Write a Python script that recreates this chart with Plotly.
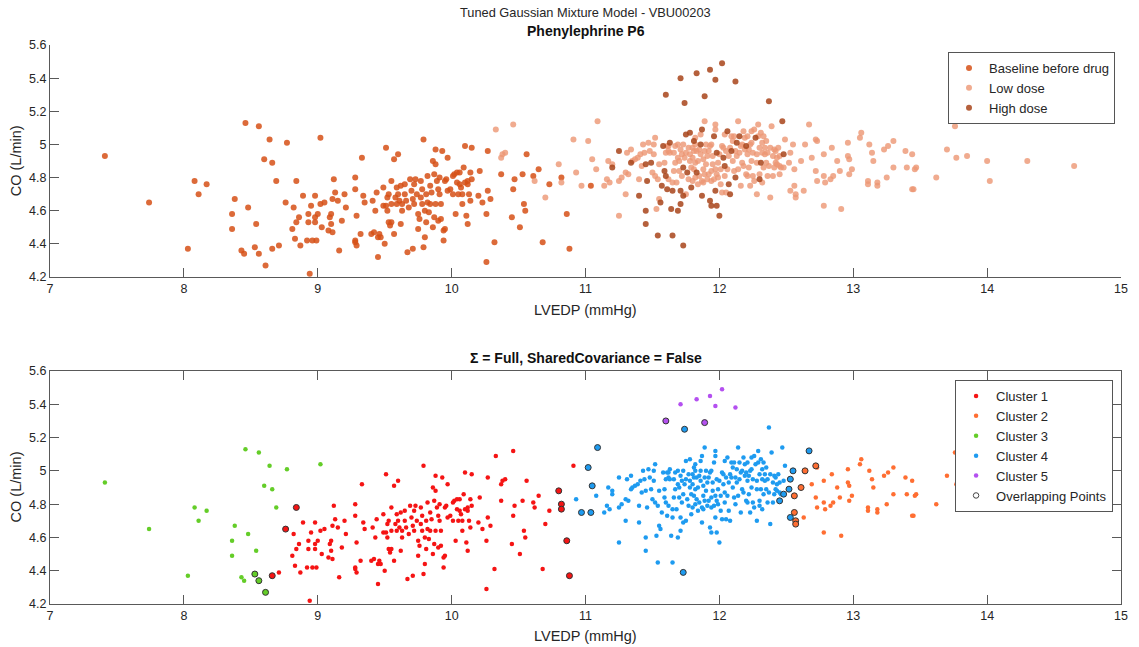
import plotly.graph_objects as go

# ---------------- data (LVEDP mmHg, CO L/min) ----------------
# cluster 3, baseline
c3_base_x = [7.41, 7.74, 8.03, 8.08, 8.11, 8.17, 8.38, 8.36, 8.36, 8.43, 8.45, 8.46, 8.56, 8.64, 8.77, 8.60, 8.66, 8.69, 8.48, 8.54, 9.02]
c3_base_y = [4.93, 4.65, 4.37, 4.78, 4.70, 4.76, 4.67, 4.58, 4.49, 4.36, 4.34, 5.13, 5.11, 5.03, 5.01, 4.91, 4.89, 4.78, 4.62, 4.52, 5.04]
c3_base_ov_x = [8.53, 8.56, 8.61]
c3_base_ov_y = [4.38, 4.34, 4.27]

# cluster 1, baseline
c1_base_x = [8.71, 8.82, 8.81, 8.83, 8.87, 8.84, 8.86, 8.89, 8.92, 8.93, 8.93, 8.95, 8.96, 8.98, 8.98, 8.98, 8.99, 9.00, 8.94, 9.02,
             9.03, 9.05, 9.08, 9.09, 9.10, 9.10, 9.11, 9.11, 9.12, 9.13, 9.15, 9.16, 9.18, 9.20, 9.21, 9.28, 9.28, 9.28, 9.28, 9.29,
             9.29, 9.32, 9.33, 9.34, 9.35, 9.40, 9.41, 9.42, 9.43, 9.44, 9.45, 9.45, 9.46, 9.47, 9.49, 9.49, 9.50, 9.51, 9.51, 9.52,
             9.52, 9.53, 9.53, 9.54, 9.55, 9.55, 9.55, 9.57, 9.57, 9.58, 9.60, 9.59, 9.59, 9.60, 9.61, 9.62, 9.62, 9.63, 9.63, 9.65,
             9.65, 9.66, 9.67, 9.68, 9.69, 9.70, 9.71, 9.71, 9.72, 9.72, 9.73, 9.74, 9.75, 9.75, 9.76, 9.77, 9.77, 9.78, 9.78, 9.79,
             9.79, 9.80, 9.80, 9.81, 9.81, 9.82, 9.82, 9.83, 9.84, 9.84, 9.85, 9.86, 9.86, 9.87, 9.87, 9.88, 9.88, 9.88, 9.89, 9.90,
             9.90, 9.91, 9.91, 9.92, 9.92, 9.93, 9.94, 9.94, 9.95, 9.95, 9.96, 9.97, 9.97, 9.99, 10.01, 10.01, 10.02, 10.03, 10.04, 10.04,
             10.05, 10.06, 10.06, 10.07, 10.08, 10.08, 10.09, 10.10, 10.10, 10.11, 10.12, 10.12, 10.12, 10.13, 10.14, 10.14, 10.15, 10.15, 10.20, 10.21,
             10.23, 10.26, 10.26, 10.27, 10.27, 10.29, 10.32, 10.37, 10.45, 10.46, 10.47, 10.51, 10.53, 10.54, 10.55, 10.56, 10.61, 10.65, 10.68, 10.73]
c1_base_y = [4.39, 4.62, 4.49, 4.43, 4.39, 4.53, 4.56, 4.69, 4.42, 4.58, 4.53, 4.63, 4.42, 4.69, 4.56, 4.53, 4.42, 4.58, 4.22, 4.64,
             4.50, 4.65, 4.48, 4.56, 4.52, 4.58, 4.47, 4.67, 4.79, 4.71, 4.66, 4.36, 4.54, 4.70, 4.62, 4.80, 4.73, 4.42, 4.41, 4.39,
             4.57, 4.46, 4.92, 4.69, 4.65, 4.46, 4.66, 4.47, 4.60, 4.71, 4.44, 4.32, 4.46, 4.44, 4.63, 4.74, 4.40, 4.98, 4.63, 4.68,
             4.60, 4.70, 4.53, 4.51, 4.78, 4.64, 4.53, 4.46, 4.91, 4.68, 4.94, 4.74, 4.64, 4.70, 4.66, 4.75, 4.52, 4.64, 4.60, 4.76,
             4.70, 4.66, 4.35, 4.62, 4.79, 4.72, 4.67, 4.37, 4.76, 4.64, 4.79, 4.70, 4.58, 4.49, 4.55, 4.78, 4.68, 4.64, 4.73, 4.38,
             5.03, 4.60, 4.44, 4.70, 4.53, 4.81, 4.65, 4.59, 4.75, 4.64, 4.71, 4.50, 4.90, 4.82, 4.56, 4.97, 4.64, 4.88, 4.78, 4.73,
             4.54, 4.70, 4.80, 4.64, 4.55, 4.96, 4.48, 4.42, 4.78, 4.49, 4.79, 4.92, 4.72, 4.73, 4.81, 4.70, 4.82, 4.58, 4.83, 4.77,
             4.70, 4.83, 4.76, 4.74, 4.64, 4.70, 4.86, 4.77, 4.99, 4.57, 4.52, 4.76, 4.78, 4.70, 4.83, 4.66, 4.98, 4.79, 4.69, 4.84,
             4.65, 4.58, 4.29, 4.96, 4.72, 4.67, 4.41, 4.82, 4.56, 4.73, 4.79, 4.50, 4.82, 4.64, 4.60, 4.94, 4.81, 4.85, 4.41, 4.76]
c1_base_ov_x = [8.84, 8.76, 8.66, 10.82, 10.86, 10.88]
c1_base_ov_y = [4.78, 4.65, 4.37, 4.80, 4.58, 4.37]

# cluster 1, low dose
c1_low_x = [10.33, 10.37, 10.38, 10.40, 10.46, 10.62, 10.70, 10.91]
c1_low_y = [5.09, 4.92, 4.94, 4.95, 5.12, 4.78, 4.68, 5.03]
c1_low_ov_x = [10.80, 10.82]
c1_low_ov_y = [4.88, 4.77]

# cluster 4, baseline
c4_base_ov_x = [11.04]
c4_base_ov_y = [4.75]

# cluster 4, low dose
c4_low_x = [10.93, 11.08, 11.14, 11.16, 11.17, 11.18, 11.20, 11.25, 11.25, 11.27, 11.30, 11.30, 11.31, 11.32, 11.34, 11.35, 11.37, 11.39, 11.40, 11.41,
            11.43, 11.42, 11.44, 11.47, 11.48, 11.50, 11.51, 11.51, 11.52, 11.52, 11.53, 11.54, 11.55, 11.55, 11.59, 11.60, 11.61, 11.62, 11.62, 11.62,
            11.63, 11.65, 11.66, 11.66, 11.67, 11.67, 11.68, 11.69, 11.69, 11.70, 11.70, 11.71, 11.72, 11.72, 11.73, 11.74, 11.75, 11.75, 11.77, 11.77,
            11.78, 11.78, 11.79, 11.80, 11.80, 11.80, 11.81, 11.81, 11.82, 11.82, 11.82, 11.82, 11.83, 11.84, 11.84, 11.85, 11.85, 11.86, 11.86, 11.87,
            11.88, 11.88, 11.88, 11.89, 11.89, 11.89, 11.90, 11.90, 11.91, 11.91, 11.92, 11.92, 11.93, 11.94, 11.94, 11.94, 11.95, 11.95, 11.96, 11.97,
            11.97, 11.97, 11.98, 11.99, 11.99, 12.00, 12.01, 12.01, 12.02, 12.02, 12.03, 12.04, 12.04, 12.05, 12.05, 12.06, 12.07, 12.08, 12.09, 12.10,
            12.10, 12.11, 12.11, 12.12, 12.13, 12.14, 12.14, 12.15, 12.16, 12.16, 12.17, 12.17, 12.18, 12.18, 12.19, 12.19, 12.20, 12.21, 12.21, 12.21,
            12.22, 12.22, 12.23, 12.23, 12.24, 12.24, 12.24, 12.25, 12.25, 12.26, 12.26, 12.28, 12.28, 12.28, 12.29, 12.29, 12.30, 12.30, 12.31, 12.32,
            12.32, 12.32, 12.33, 12.33, 12.34, 12.34, 12.35, 12.35, 12.36, 12.36, 12.37, 12.38, 12.38, 12.39, 12.40, 12.40, 12.41, 12.41, 12.42, 12.42,
            12.43, 12.43, 12.44, 12.45, 12.45, 12.46, 12.49]
c4_low_y = [4.83, 4.85, 4.75, 4.79, 4.90, 4.77, 4.88, 4.57, 4.78, 4.80, 4.83, 4.70, 4.95, 4.82, 4.97, 4.90, 4.91, 4.92, 4.79, 4.94,
            5.00, 4.87, 4.95, 5.01, 4.96, 4.83, 5.00, 4.94, 5.04, 4.81, 4.61, 4.79, 4.88, 4.67, 4.89, 4.95, 4.99, 4.96, 4.99, 4.79,
            4.95, 4.77, 4.84, 4.95, 4.89, 4.99, 4.77, 4.92, 5.00, 4.90, 4.84, 4.97, 4.81, 4.94, 5.00, 4.92, 4.95, 4.70, 4.79, 4.98,
            4.90, 4.94, 4.86, 4.98, 4.78, 4.92, 4.96, 4.85, 5.00, 5.04, 4.80, 4.89, 4.96, 4.76, 4.90, 4.97, 4.81, 4.94, 5.06, 4.78,
            4.85, 4.91, 4.77, 4.96, 5.14, 4.82, 5.00, 4.88, 4.79, 4.93, 4.82, 4.96, 4.99, 4.84, 4.78, 5.00, 4.88, 4.93, 4.79, 5.09,
            4.85, 5.12, 4.82, 4.80, 4.89, 4.94, 4.76, 4.85, 4.99, 4.71, 4.98, 4.81, 5.06, 4.71, 4.96, 4.85, 4.93, 4.98, 5.05, 4.90,
            5.02, 4.84, 5.05, 4.96, 4.93, 5.14, 4.85, 4.95, 4.99, 4.75, 5.00, 4.89, 4.87, 5.08, 5.04, 4.97, 4.82, 4.94, 5.05, 4.81,
            4.97, 4.86, 5.00, 4.75, 5.08, 4.90, 5.01, 4.95, 4.81, 5.09, 4.78, 4.94, 4.89, 4.70, 5.12, 5.05, 4.82, 4.98, 5.07, 5.01,
            4.95, 4.77, 5.05, 4.86, 4.98, 4.94, 4.89, 5.02, 4.81, 4.95, 4.87, 4.98, 4.68, 5.11, 4.93, 4.81, 4.97, 4.86, 4.89, 4.96,
            4.92, 4.88, 4.98, 4.93, 4.87, 4.86, 5.03]
c4_low_ov_x = [11.09, 11.02, 11.05, 10.97, 12.67, 12.55, 12.53, 12.52, 12.48, 12.45, 12.53]
c4_low_ov_y = [5.14, 5.02, 4.91, 4.75, 5.12, 5.00, 4.95, 4.89, 4.86, 4.82, 4.72]

# cluster 4, high dose
c4_high_x = [11.20, 11.25, 11.34, 11.40, 11.45, 11.45, 11.45, 11.46, 11.49, 11.54, 11.56, 11.57, 11.58, 11.59, 11.60, 11.61, 11.63, 11.64, 11.65, 11.65,
             11.69, 11.71, 11.71, 11.73, 11.73, 11.75, 11.76, 11.78, 11.79, 11.81, 11.83, 11.86, 11.87, 11.87, 11.93, 11.94, 11.96, 11.97, 11.98, 11.98,
             12.00, 12.03, 12.04, 12.06, 12.07, 12.08, 12.09, 12.12, 12.13, 12.15, 12.20, 12.27, 12.30, 12.31, 12.37, 12.47, 12.48]
c4_high_y = [4.86, 4.96, 4.89, 4.69, 4.88, 4.60, 4.52, 4.78, 4.89, 4.45, 4.65, 4.75, 4.99, 4.84, 4.81, 4.73, 5.01, 4.61, 4.45, 4.72,
             4.60, 4.72, 4.64, 4.69, 4.86, 5.06, 4.83, 5.07, 4.74, 5.02, 4.83, 5.00, 4.69, 5.09, 4.66, 4.63, 5.05, 4.72, 4.95, 4.63,
             4.57, 4.92, 4.87, 5.08, 4.76, 4.70, 4.96, 4.80, 5.01, 5.05, 4.99, 5.04, 4.79, 4.89, 5.26, 5.14, 4.94]
c4_high_ov_x = [11.74, 11.73]
c4_high_ov_y = [5.25, 4.39]

# cluster 2, low dose
c2_low_x = [12.73, 12.69, 12.78, 12.84, 12.88, 12.72, 12.78, 12.79, 12.83, 12.85, 12.90, 12.73, 12.63, 12.78, 12.91, 12.96, 12.96, 12.97, 12.99, 12.97,
            13.05, 13.06, 13.12, 13.14, 13.15, 13.11, 13.11, 13.18, 13.18, 13.23, 13.26, 13.30, 13.30, 13.25, 13.39, 13.44, 13.40, 13.47, 13.46, 13.44,
            13.45, 13.62, 13.70, 13.76, 13.77, 13.85, 14.00, 14.02, 14.30, 14.65]
c2_low_y = [5.02, 4.92, 4.94, 4.98, 4.90, 4.84, 4.81, 4.77, 4.79, 4.81, 4.84, 4.78, 4.72, 4.63, 4.61, 5.01, 4.93, 4.91, 4.85, 4.82,
            5.04, 5.07, 5.00, 4.95, 4.90, 4.78, 4.76, 4.77, 4.75, 4.97, 4.99, 5.02, 4.86, 4.80, 4.96, 4.94, 4.86, 4.86, 4.85, 4.73,
            4.73, 4.80, 4.97, 5.11, 4.92, 4.93, 4.90, 4.78, 4.90, 4.87]
c2_low_ov_x = [12.64, 12.72, 12.61, 12.56, 12.56, 12.57, 12.57]
c2_low_ov_y = [5.00, 5.03, 4.90, 4.85, 4.75, 4.70, 4.68]

# cluster 5, high dose
c5_high_x = [11.71, 11.83, 11.93, 12.02, 11.97, 12.12]
c5_high_y = [5.40, 5.43, 5.45, 5.49, 5.39, 5.38]
c5_high_ov_x = [11.60, 11.89]
c5_high_ov_y = [5.30, 5.29]

x_ticks = [7, 8, 9, 10, 11, 12, 13, 14, 15]
y_ticks = [4.2, 4.4, 4.6, 4.8, 5.0, 5.2, 5.4, 5.6]
y_tick_text = ["4.2", "4.4", "4.6", "4.8", "5", "5.2", "5.4", "5.6"]

# ---------------- groupings ----------------
baseline_x = c3_base_x + c3_base_ov_x + c1_base_x + c1_base_ov_x + c4_base_ov_x
baseline_y = c3_base_y + c3_base_ov_y + c1_base_y + c1_base_ov_y + c4_base_ov_y
low_x = c1_low_x + c1_low_ov_x + c4_low_x + c4_low_ov_x + c2_low_x + c2_low_ov_x
low_y = c1_low_y + c1_low_ov_y + c4_low_y + c4_low_ov_y + c2_low_y + c2_low_ov_y
high_x = c4_high_x + c4_high_ov_x + c5_high_x + c5_high_ov_x
high_y = c4_high_y + c4_high_ov_y + c5_high_y + c5_high_ov_y

clusters = [
    ("Cluster 1", "rgb(245,20,20)", c1_base_x + c1_low_x, c1_base_y + c1_low_y,
     c1_base_ov_x + c1_low_ov_x, c1_base_ov_y + c1_low_ov_y),
    ("Cluster 2", "rgb(255,110,50)", c2_low_x, c2_low_y, c2_low_ov_x, c2_low_ov_y),
    ("Cluster 3", "rgb(100,205,40)", c3_base_x, c3_base_y, c3_base_ov_x, c3_base_ov_y),
    ("Cluster 4", "rgb(30,155,240)", c4_low_x + c4_high_x, c4_low_y + c4_high_y,
     c4_base_ov_x + c4_low_ov_x + c4_high_ov_x, c4_base_ov_y + c4_low_ov_y + c4_high_ov_y),
    ("Cluster 5", "rgb(180,80,240)", c5_high_x, c5_high_y, c5_high_ov_x, c5_high_ov_y),
]

FONT = "Liberation Sans, Arial, Helvetica, sans-serif"
TXT = "#262626"
AX = "#595959"

fig = go.Figure()

# top panel
for name, col, op, xs, ys in [
    ("Baseline before drug", "rgb(214,80,22)", 0.85, baseline_x, baseline_y),
    ("Low dose", "rgb(236,150,115)", 0.8, low_x, low_y),
    ("High dose", "rgb(168,68,26)", 0.85, high_x, high_y),
]:
    fig.add_trace(go.Scatter(x=xs, y=ys, mode="markers", name=name,
                             marker=dict(size=6, color=col, opacity=op, line=dict(width=0)),
                             xaxis="x", yaxis="y", legend="legend"))

# bottom panel
for name, col, xs, ys, oxs, oys in clusters:
    fig.add_trace(go.Scatter(x=xs, y=ys, mode="markers", name=name,
                             marker=dict(size=4.5, color=col, line=dict(width=0)),
                             xaxis="x2", yaxis="y2", legend="legend2"))
for name, col, xs, ys, oxs, oys in clusters:
    fig.add_trace(go.Scatter(x=oxs, y=oys, mode="markers", showlegend=False,
                             marker=dict(size=6, color=col, line=dict(width=1, color="#333333")),
                             xaxis="x2", yaxis="y2", hoverinfo="skip"))
fig.add_trace(go.Scatter(x=[None], y=[None], mode="markers", name="Overlapping Points",
                         marker=dict(size=5.5, symbol="circle-open", color="#444444", line=dict(width=1)),
                         xaxis="x2", yaxis="y2", legend="legend2"))

axis_common = dict(range=[7, 15], tickvals=x_ticks, ticks="inside", ticklen=9, tickcolor=AX,
                   showline=True, linecolor=AX, linewidth=1, showgrid=False, zeroline=False,
                   tickfont=dict(size=12.5, color=TXT, family=FONT))
yaxis_common = dict(range=[4.2, 5.6], tickvals=y_ticks, ticktext=y_tick_text, ticks="inside",
                    ticklen=9, tickcolor=AX, showline=True, linecolor=AX, linewidth=1,
                    showgrid=False, zeroline=False, tickfont=dict(size=12.5, color=TXT, family=FONT))

fig.update_layout(
    width=1139, height=647,
    margin=dict(l=50, r=11, t=45, b=43),
    paper_bgcolor="white", plot_bgcolor="white",
    font=dict(family=FONT, size=12, color=TXT),
    xaxis=dict(domain=[0, 1], anchor="y", **axis_common),
    yaxis=dict(domain=[0.585, 1.0], anchor="x", **yaxis_common),
    xaxis2=dict(domain=[0, 1], anchor="y2", mirror="ticks", **axis_common),
    yaxis2=dict(domain=[0, 0.4168], anchor="x2", mirror="ticks", **yaxis_common),
    legend=dict(x=0.9944, y=0.9875, xanchor="right", yanchor="top", bgcolor="white",
                bordercolor="#555555", borderwidth=1, font=dict(size=13, color=TXT, family=FONT),
                tracegroupgap=0),
    legend2=dict(x=0.9926, y=0.4007, xanchor="right", yanchor="top", bgcolor="white",
                 bordercolor="#555555", borderwidth=1, font=dict(size=13, color=TXT, family=FONT),
                 tracegroupgap=0),
    showlegend=True,
    annotations=[
        dict(text="Tuned Gaussian Mixture Model - VBU00203", x=0.5, y=1.059, xref="paper", yref="paper",
             showarrow=False, font=dict(size=12.8, color=TXT), xanchor="center", yanchor="middle"),
        dict(text="<b>Phenylephrine P6</b>", x=0.5, y=1.025, xref="paper", yref="paper",
             showarrow=False, font=dict(size=14, color="#111111"), xanchor="center", yanchor="middle"),
        dict(text="<b>Σ = Full, SharedCovariance = False</b>", x=0.5, y=0.440, xref="paper", yref="paper",
             showarrow=False, font=dict(size=14, color="#111111"), xanchor="center", yanchor="middle"),
        dict(text="LVEDP (mmHg)", x=0.5, y=0.526, xref="paper", yref="paper",
             showarrow=False, font=dict(size=14.5, color=TXT), xanchor="center", yanchor="middle"),
        dict(text="LVEDP (mmHg)", x=0.5, y=-0.057, xref="paper", yref="paper",
             showarrow=False, font=dict(size=14.5, color=TXT), xanchor="center", yanchor="middle"),
        dict(text="CO (L/min)", x=-0.0315, y=0.7925, xref="paper", yref="paper", textangle=-90,
             showarrow=False, font=dict(size=14.5, color=TXT), xanchor="center", yanchor="middle"),
        dict(text="CO (L/min)", x=-0.0315, y=0.209, xref="paper", yref="paper", textangle=-90,
             showarrow=False, font=dict(size=14.5, color=TXT), xanchor="center", yanchor="middle"),
    ],
)

fig.write_html("out.html")
